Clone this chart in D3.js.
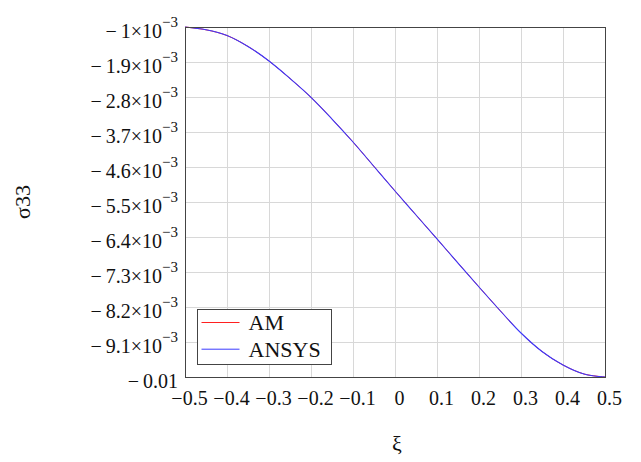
<!DOCTYPE html>
<html>
<head>
<meta charset="utf-8">
<script src="https://cdn.jsdelivr.net/npm/d3@7/dist/d3.min.js"></script>
<style>
  body { margin: 0; background: #fff; }
  svg { display: block; font-family: "Liberation Serif", "Times New Roman", serif; }
</style>
</head>
<body>
<div id="chart"></div>
<script>
// data
const xi = [-0.5, -0.45, -0.4, -0.35, -0.3, -0.25, -0.2, -0.15, -0.1, -0.05, 0,
            0.05, 0.1, 0.15, 0.2, 0.25, 0.3, 0.35, 0.4, 0.45, 0.5];
const sigmaAM = [-1.000e-3, -1.072e-3, -1.219e-3, -1.501e-3, -1.874e-3, -2.324e-3, -2.808e-3,
                 -3.366e-3, -3.957e-3, -4.587e-3, -5.217e-3, -5.834e-3, -6.451e-3, -7.069e-3,
                 -7.686e-3, -8.290e-3, -8.869e-3, -9.344e-3, -9.691e-3, -9.923e-3, -1.0e-2];
const sigmaANSYS = [-1.000e-3, -1.072e-3, -1.219e-3, -1.501e-3, -1.874e-3, -2.324e-3, -2.808e-3,
                    -3.366e-3, -3.957e-3, -4.587e-3, -5.217e-3, -5.834e-3, -6.451e-3, -7.069e-3,
                    -7.686e-3, -8.290e-3, -8.869e-3, -9.344e-3, -9.691e-3, -9.923e-3, -1.0e-2];

const xTicks = [-0.5, -0.4, -0.3, -0.2, -0.1, 0, 0.1, 0.2, 0.3, 0.4, 0.5];
const xTickLabels = ["\u22120.5", "\u22120.4", "\u22120.3", "\u22120.2", "\u22120.1", "0",
                     "0.1", "0.2", "0.3", "0.4", "0.5"];
const yTicks = [-1e-3, -1.9e-3, -2.8e-3, -3.7e-3, -4.6e-3, -5.5e-3, -6.4e-3, -7.3e-3, -8.2e-3, -9.1e-3, -0.01];
// mantissa and exponent parts of each y tick label
const yTickMain = ["1", "1.9", "2.8", "3.7", "4.6", "5.5", "6.4", "7.3", "8.2", "9.1", "0.01"];
const yTickExp = ["\u22123", "\u22123", "\u22123", "\u22123", "\u22123", "\u22123", "\u22123", "\u22123", "\u22123", "\u22123", null];

const seriesNames = ["AM", "ANSYS"];
const seriesColors = ["#ff2020", "#3a3aff"];

// layout
const W = 641, H = 462;
const margin = { top: 27, right: 36, bottom: 85, left: 185 };
const width = W - margin.left - margin.right;
const height = H - margin.top - margin.bottom;

const svg = d3.select("#chart").append("svg")
    .attr("width", W)
    .attr("height", H);

const g = svg.append("g")
    .attr("transform", `translate(${margin.left},${margin.top})`);

const x = d3.scaleLinear().domain([-0.5, 0.5]).range([0, width]);
const y = d3.scaleLinear().domain([-1e-3, -0.01]).range([0, height]);

// grid
g.append("g")
    .attr("transform", `translate(0,${height})`)
    .call(d3.axisBottom(x).tickValues(xTicks).tickSize(-height).tickFormat(""))
    .call(s => s.select(".domain").remove())
    .call(s => s.selectAll("line").attr("stroke", "#d8d8d8"));

g.append("g")
    .call(d3.axisLeft(y).tickValues(yTicks).tickSize(-width).tickFormat(""))
    .call(s => s.select(".domain").remove())
    .call(s => s.selectAll("line").attr("stroke", "#d8d8d8"));

// curves (AM below, ANSYS on top)
const line = d3.line()
    .x((d, i) => x(xi[i]))
    .y(d => y(d))
    .curve(d3.curveCatmullRom.alpha(0.5));

[sigmaAM, sigmaANSYS].forEach((s, k) => {
    g.append("path")
        .datum(s)
        .attr("fill", "none")
        .attr("stroke", seriesColors[k])
        .attr("stroke-width", k === 0 ? 1 : 1.1)
        .attr("d", line);
});

// frame
g.append("rect")
    .attr("x", 0.5).attr("y", 0.5)
    .attr("width", width).attr("height", height)
    .attr("fill", "none")
    .attr("stroke", "#444")
    .attr("stroke-width", 1);

// x tick labels
g.selectAll(".xlab")
    .data(xTicks)
    .enter()
    .append("text")
    .attr("class", "xlab")
    .attr("x", d => x(d) + 4.5)
    .attr("y", height + 28)
    .attr("text-anchor", "middle")
    .style("font-size", "20px")
    .attr("fill", "#111")
    .text((d, i) => xTickLabels[i]);

// y tick labels
const ylab = g.selectAll(".ylab")
    .data(yTicks)
    .enter()
    .append("text")
    .attr("class", "ylab")
    .attr("x", -7)
    .attr("y", d => y(d) + 11)
    .attr("text-anchor", "end")
    .attr("fill", "#111")
    .style("font-size", "20px");

ylab.append("tspan")
    .text((d, i) => "\u2212\u2009" + yTickMain[i] + (yTickExp[i] ? "\u00d710" : ""));

ylab.filter((d, i) => yTickExp[i])
    .append("tspan")
    .attr("dy", -11)
    .style("font-size", "15px")
    .text(d => yTickExp[yTicks.indexOf(d)]);

// axis labels
svg.append("text")
    .attr("transform", `translate(30,${margin.top + height / 2}) rotate(-90)`)
    .attr("text-anchor", "middle")
    .style("font-size", "22px")
    .attr("fill", "#111")
    .text("\u03c333");

svg.append("text")
    .attr("x", margin.left + width / 2 + 2)
    .attr("y", 451)
    .attr("text-anchor", "middle")
    .style("font-size", "22px")
    .attr("fill", "#111")
    .text("\u03be");

// legend
const legend = g.append("g")
    .attr("transform", "translate(12.5,282.5)");

legend.append("rect")
    .attr("width", 134)
    .attr("height", 55)
    .attr("fill", "#fff")
    .attr("stroke", "#444");

seriesNames.forEach((name, i) => {
    const ly = 13 + i * 26.7;
    legend.append("line")
        .attr("x1", 4).attr("x2", 42)
        .attr("y1", ly).attr("y2", ly)
        .attr("stroke", seriesColors[i])
        .attr("stroke-width", 1);
    legend.append("text")
        .attr("x", 51)
        .attr("y", ly + 7.5)
        .style("font-size", "22px")
        .attr("fill", "#111")
        .text(name);
});
</script>
</body>
</html>
